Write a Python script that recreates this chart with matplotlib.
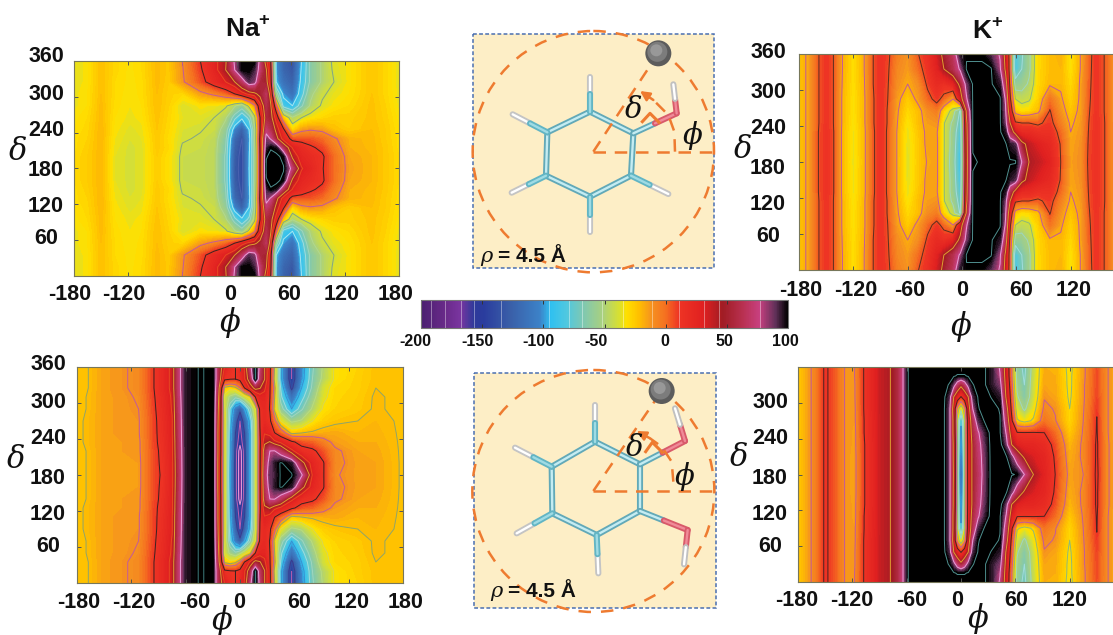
import matplotlib
matplotlib.use('Agg')
import matplotlib.pyplot as plt
import numpy as np
from matplotlib.colors import LinearSegmentedColormap, Normalize
from matplotlib.patches import Circle, Rectangle

plt.rcParams['font.family'] = ['Liberation Sans', 'DejaVu Sans']
plt.rcParams['mathtext.fontset'] = 'custom'
plt.rcParams['mathtext.bf'] = 'Liberation Sans:bold'

# ---- colour scale
cb_values = [-200, -180, -168, -157, -149, -127, -103, -94, -81, -67, -52, -38, -32, -22, -11, 0, 11, 31, 47, 63, 77, 90, 100]
cb_colors = ['#4a2070', '#6a2a8a', '#7a35a0', '#2f3a9a', '#2a3c9e', '#3a5fa8', '#3c82c8', '#2fc0f0', '#50c8e0', '#80c8b0',
             '#a8d080', '#d8e030', '#ffe000', '#ffc000', '#f59020', '#f57020', '#ee3424', '#e02020', '#a01c24', '#b83050',
             '#c84080', '#603058', '#000000']
cb_lines = [-192, -180, -167, -157, -135, -95, -79, -68, -52, -35, -11, 11, 31, 44, 77]
cb_ticks = [-200, -150, -100, -50, 0, 50, 100]
cb_label_x = [415, 478, 538, 596, 665, 724, 785]

# ---- Na+ top panel
na_top_phi = [-180, -165, -150, -135, -118, -105, -88, -75, -60, -40, -25, -12, -2, 6, 14, 20, 26, 33, 38, 44, 52, 62, 72, 82, 95, 108, 125, 150, 165, 180]
na_top_delta = [0, 15, 35, 55, 75, 95, 115, 130, 145, 160, 180, 200, 215, 230, 245, 265, 285, 305, 325, 345, 360]
a00 = [-36, -33, -22, -29, -33, -30, -21, -25, -11, 11, 26, 42, 80, 100, 100, 100, 72, 35, 10, -100, -125, -135, -95, -65, -50, -37, -33, -24, -29, -36]
a15 = [-36, -33, -22, -29, -33, -30, -21, -25, -12, 9, 25, 44, 77, 100, 100, 92, 70, 45, 15, -100, -122, -132, -93, -65, -50, -38, -33, -24, -29, -36]
a35 = [-36, -33, -22, -30, -33, -31, -21, -26, -13, 5, 20, 31, 44, 65, 90, 85, 55, 50, 20, -95, -115, -125, -90, -65, -50, -40, -33, -24, -29, -36]
a55 = [-35, -32, -22, -30, -34, -31, -22, -27, -30, -15, -8, 0, 11, 25, 35, 40, 50, 65, 35, -60, -100, -115, -85, -55, -42, -36, -32, -24, -29, -35]
a75 = [-35, -32, -21, -31, -34, -32, -22, -28, -38, -33, -35, -38, -50, -60, -35, -15, 25, 60, 45, -5, -85, -95, -70, -50, -38, -33, -30, -23, -28, -35]
a95 = [-33, -30, -21, -32, -35, -33, -23, -29, -36, -37, -40, -50, -75, -92, -75, -45, 10, 55, 50, 25, -25, -50, -40, -34, -30, -27, -27, -23, -27, -33]
a115 = [-32, -29, -20, -33, -37, -35, -24, -30, -38, -39.5, -42, -60, -105, -125, -95, -55, 10, 70, 60, 40, 15, -30, -15, -12, -14, -22, -26, -22, -26, -32]
a130 = [-31, -28, -20, -34, -38, -36, -25, -31, -39, -41, -45, -65, -120, -135, -100, -55, 15, 85, 75, 50, 25, 5, 5, 5, 0, -9, -19, -21, -26, -31]
a145 = [-31, -27, -20, -35, -39, -37, -25, -30, -41, -42, -46, -68, -125, -138, -98, -58, 12, 92, 100, 96, 60, 30, 20, 13, 8, -5, -18, -21, -25, -31]
a160 = [-30, -26, -20, -36, -39, -37, -26, -32, -42, -43, -46, -70, -128, -140, -96, -60, 10, 100, 104, 104, 98, 40, 25, 20, 13, 0, -16, -20, -25, -30]
a180 = [-30, -26, -20, -36, -39, -37, -26, -32, -42, -43, -46, -70, -130, -140, -95, -60, 10, 104, 105, 105, 102, 70, 32, 25, 12, 0, -15, -20, -25, -30]
na_top = [a00, a15, a35, a55, a75, a95, a115, a130, a145, a160, a180, a160, a145, a130, a115, a95, a75, a55, a35, a15, a00]
na_top_levels = [-135, -95, -79, -68, -52, -40, -11, 11, 31, 44, 77, 101]
na_top_colors = ['#4a62b0', '#a8e4f0', '#a0dcdc', '#9ed6c0', '#b0d890', '#7fa58a', '#c45a9a', '#3a2420', '#e84a20', '#e0a030', '#e8a0d8', '#4f8f8f']

# ---- Na+ bottom panel
na_bot_phi = [-180, -170, -150, -130, -112, -95, -85, -75, -68, -60, -45, -30, -24, -17, -11, -5, 0, 5, 11, 17, 22, 27, 33, 38, 45, 57, 68, 80, 92, 105, 130, 150, 180]
na_bot_delta = [0, 20, 35, 50, 70, 90, 110, 125, 140, 160, 180, 200, 220, 235, 250, 270, 290, 310, 325, 340, 360]
b00 = [-24, -23, -15, -12, -9, 11, 22, 35, 70, 95, 101.5, 100, 60, 30, 18, 11, 20, 32, 70, 102, 70, 45, 15, -20, -90, -150, -105, -70, -50, -33, -28, -23, -24]
b20 = [-24, -23, -15, -12, -9, 11, 22, 35, 70, 95, 101.5, 100, 60, 15, 12, 11, 16, 30, 55, 102, 65, 45, 15, -25, -90, -150, -103, -68, -48, -33, -27, -23, -24]
b35 = [-24, -23, -15, -12, -9, 11, 22, 35, 70, 95, 101.5, 100, 55, -25, -30, -25, -12, 11, 33, 50, 45, 35, 12, -15, -80, -140, -95, -65, -40, -30, -27, -22, -24]
b50 = [-24, -22, -15, -13, -10, 10, 20, 33, 68, 95, 101.5, 100, 50, -40, -55, -65, -55, -42, -28, 11, 25, 25, 11, -20, -75, -115, -85, -58, -38, -29, -26, -21, -24]
b70 = [-24, -22, -15, -13, -11, 9, 19, 32, 66, 95, 101.5, 100, 45, -35, -80, -110, -130, -100, -70, -35, 15, 22, 10, -25, -60, -95, -70, -50, -33, -28, -25, -21, -24]
b90 = [-24, -21, -15, -13, -12, 8, 18, 30, 65, 95, 101.5, 100, 42, -33, -85, -125, -150, -125, -90, -45, 12, 22, 14, -5, -35, -55, -50, -35, -27, -24, -22, -20, -23]
b110 = [-24, -21, -15, -13, -12, 8, 17, 30, 64, 95, 101.5, 100, 40, -33, -90, -135, -155, -135, -95, -45, 10, 30, 25, 12, 0, -25, -22, -20, -18, -17, -20, -19, -23]
b125 = [-24, -21, -15, -14, -13, 8, 16, 29, 63, 95, 101.5, 100, 40, -33, -92, -138, -160, -138, -95, -45, 8, 40, 45, 35, 28, 14, 5, 2, -6, -14, -18, -18, -23]
b140 = [-24, -22, -15, -14, -13, 7, 15, 29, 62, 95, 101.5, 100, 40, -33, -92, -140, -178, -140, -95, -45, 8, 55, 77, 78, 65, 35, 18, 14, 5, -9, -16, -17, -23]
b160 = [-24, -22, -15, -14, -14, 7, 14, 28, 61, 95, 101.5, 100, 38, -33, -94, -142, -180, -142, -95, -45, 8, 60, 85, 95, 102, 95, 50, 25, 12, -8, -15, -16, -23]
b180 = [-24, -22, -15, -14, -14, 7, 13, 28, 60, 95, 101.5, 100, 38, -33, -95, -142, -180, -142, -95, -45, 8, 65, 88, 92, 102, 102, 80, 30, 12, -10, -15, -16, -23]
na_bot = [b00, b20, b35, b50, b70, b90, b110, b125, b140, b160, b180, b160, b140, b125, b110, b90, b70, b50, b35, b20, b00]
na_bot_levels = [-167, -150, -135, -95, -79, -68, -52, -35, -22, -11, 11, 31, 44, 77, 101]
na_bot_colors = ['#e8a0d8', '#c060b0', '#3a3a90', '#3a8fd0', '#a0dcdc', '#9ed6c0', '#b8dc80', '#d8d850', '#8fa56a', '#c45a9a', '#3a2420', '#e84a20', '#e0a030', '#e8a0d8', '#3f7f7f']

# ---- K+ top panel
k_top_phi = [-180, -170, -158, -150, -142, -132, -120, -108, -98, -90, -82, -72, -60, -48, -38, -28, -20, -10, -2, 5, 12, 22, 32, 42, 48, 53, 59, 66, 74, 84, 97, 109, 120, 132, 140, 148, 157, 170, 180]
k_top_delta = [0, 25, 50, 75, 95, 115, 130, 150, 180, 210, 230, 245, 265, 285, 310, 335, 360]
c00 = [-24, -16, 5, 12, 5, -18, -32, -18, 5, 14, 8, -5, -12, 5, 15, 32, 50, 65, 95, 100, 100, 100, 90, 75, 35, -5, -85, -70, -55, -30, -22, -18, -34, -16, 0, 12, 5, -15, -24]
c25 = [-24, -16, 5, 12, 5, -18, -32, -18, 5, 14, 7, -8, -14, 0, 12, 28, 44, 60, 80, 102, 102, 102, 102, 80, 40, -5, -82, -68, -55, -30, -22, -20, -33, -16, 1, 12, 5, -15, -24]
c50 = [-24, -16, 5, 12, 5, -19, -32, -19, 5, 14, 6, -10, -18, -10, 8, 20, 15, 25, 50, 85, 102, 102, 102, 95, 60, 0, -60, -58, -50, -30, -20, -20, -30, -15, 2, 12, 5, -15, -24]
c75 = [-24, -16, 5, 12, 5, -20, -33, -20, 4, 14, 5, -14, -26, -14, 0, 10, 0, -18, 30, 75, 102, 102, 102, 102, 75, 10, -40, -45, -42, -28, -2, -16, -27, -15, 3, 12, 5, -15, -24]
c95 = [-24, -16, 5, 12, 5, -20, -33, -20, 4, 14, 4, -16, -30, -22, -10, -5, -30, -45, -70, 50, 102, 102, 102, 102, 80, 25, -25, -32, -30, -22, 6, -12, -24, -14, 4, 12, 5, -15, -24]
c115 = [-24, -16, 5, 12, 5, -20, -34, -20, 4, 14, 4, -17, -34, -22, -14, -12, -39, -55, -75, 40, 102, 102, 102, 102, 85, 45, 8, 5, 5, 2, 10, -6, -20, -13, 5, 13, 6, -15, -24]
c130 = [-24, -16, 6, 13, 6, -21, -35, -21, 3, 14, 3, -18, -36, -24, -15, -16, -39, -58, -80, 38, 102, 102, 102, 102, 95, 60, 35, 20, 20, 15, 15, 0, -18, -12, 6, 13, 6, -15, -24]
c150 = [-24, -16, 6, 13, 6, -21, -35, -21, 3, 14, 3, -18, -37, -25, -15, -15, -39, -58, -85, 36, 102, 102, 102, 102, 102, 95, 90, 50, 38, 30, 22, 4, -16, -11, 7, 13, 6, -15, -24]
c180 = [-24, -16, 6, 13, 6, -21, -36, -21, 3, 14, 3, -18, -38, -25, -17, -15, -39, -60, -88, 35, 100, 102, 102, 102, 102, 102, 102, 77, 44, 38, 28, 5, -15, -10, 8, 13, 6, -15, -24]
k_top = [c00, c25, c50, c75, c95, c115, c130, c150, c180, c150, c130, c115, c95, c75, c50, c25, c00]
k_top_levels = [-68, -52, -40, -18, 5, 44, 77, 101]
k_top_colors = ['#a0dcdc', '#9ed6c0', '#8fb87a', '#c45a9a', '#5a3020', '#e0a030', '#e8a0d8', '#4f8f8f']

# ---- K+ bottom panel
k_bot_phi = [-180, -170, -160, -150, -138, -128, -118, -107, -97, -88, -78, -70, -64, -58, -45, -20, -13, -8, -4, 0, 4, 8, 13, 19, 26, 34, 43, 50, 56, 62, 70, 80, 92, 104, 120, 135, 150, 160, 180]
k_bot_delta = [0, 15, 30, 50, 70, 90, 110, 130, 150, 180, 210, 230, 250, 270, 290, 310, 330, 345, 360]
d00 = [-25, -16, -5, 14, 2, -12, -12, 12, 26, 38, 44, 55, 77, 102, 106, 106, 106, 106, 106, 106, 106, 106, 106, 106, 102, 95, 75, 30, -10, -60, -72, -45, -18, -18, -34, -14, 6, -9, -25]
d15 = [-25, -16, -5, 14, 2, -12, -12, 12, 26, 38, 44, 55, 77, 102, 106, 106, 106, 102, 100, 100, 100, 102, 106, 106, 102, 95, 78, 32, -10, -58, -70, -44, -17, -18, -33, -14, 7, -9, -25]
d30 = [-25, -16, -5, 14, 2, -12, -13, 12, 26, 38, 44, 55, 77, 102, 106, 106, 100, 85, 65, 50, 65, 85, 100, 106, 102, 95, 85, 35, -5, -55, -68, -43, -16, -17, -33, -13, 7, -9, -25]
d50 = [-25, -16, -5, 14, 2, -12, -13, 12, 26, 38, 44, 55, 77, 102, 106, 106, 90, 44, 25, 10, 25, 44, 90, 102, 106, 100, 95, 40, 0, -50, -65, -42, -12, -16, -32, -13, 8, -9, -25]
d70 = [-25, -16, -5, 14, 2, -12, -14, 12, 26, 38, 44, 55, 77, 102, 106, 106, 85, 30, -20, -45, -20, 30, 77, 100, 106, 106, 100, 55, 5, -40, -55, -36, -8, -12, -30, -12, 10, -9, -25]
d90 = [-25, -16, -5, 14, 2, -12, -14, 11, 25, 38, 44, 55, 77, 102, 106, 106, 85, 35, -35, -92, -35, 25, 60, 90, 102, 106, 102, 65, 15, -28, -35, -28, -2, -10, -29, -11, 11.5, -9, -25]
d110 = [-25, -16, -5, 14, 2, -12, -15, 11, 25, 38, 44, 55, 77, 102, 106, 106, 85, 35, -30, -110, -30, 22, 55, 75, 92, 106, 102, 75, 30, 12, 11.5, 12, 11, 0, -25, -10, 12, -9, -25]
d130 = [-25, -16, -5, 14, 2, -12, -15, 10, 24, 38, 44, 55, 77, 102, 106, 106, 85, 38, -25, -120, -30, 20, 50, 70, 88, 106, 106, 85, 44, 30, 25, 25, 20, 6, -20, -9, 13, -8, -25]
d150 = [-25, -16, -5, 14, 2, -12, -16, 10, 24, 38, 44, 55, 77, 102, 106, 106, 85, 38, -25, -130, -30, 20, 50, 68, 86, 106, 106, 102, 85, 60, 40, 32, 25, 9, -18, -9, 13, -8, -25]
d180 = [-25, -16, -5, 14, 2, -12, -16, 10, 24, 38, 44, 55, 77, 102, 106, 106, 85, 40, -25, -140, -30, 20, 50, 65, 85, 106, 106, 106, 102, 100, 77, 44, 28, 11, -15, -11, 14, -8, -25]
k_bot = [d00, d15, d30, d50, d70, d90, d110, d130, d150, d180, d150, d130, d110, d90, d70, d50, d30, d15, d00]
k_bot_levels = [-100, -68, -52, -30, -11, 11, 44, 77, 101]
k_bot_colors = ['#3a8fd0', '#a0dcdc', '#9ed6c0', '#8fb87a', '#c45a9a', '#4a2420', '#e0a030', '#e8a0d8', '#4f8f8f']

x_tick_values = [-180, -120, -60, 0, 60, 120, 180]
y_tick_values = [60, 120, 180, 240, 300, 360]

cmap = LinearSegmentedColormap.from_list('pes', [((v + 200) / 300, c) for v, c in zip(cb_values, cb_colors)], N=512)
cmap.set_over('#000000')
norm = Normalize(-200, 100)
fill_levels = np.linspace(-200, 100, 151)

fig = plt.figure(figsize=(11.13, 6.35), dpi=100)
W, H = 1113, 635


def px_axes(x0, y0, x1, y1):
    return fig.add_axes([x0 / W, 1 - y1 / H, (x1 - x0) / W, (y1 - y0) / H])


def panel(box, phi, delta, grid, levels, colors):
    ax = px_axes(*box)
    ax.contourf(phi, delta, np.array(grid, dtype=float), levels=fill_levels, cmap=cmap, norm=norm, extend='max', antialiased=False)
    ax.contour(phi, delta, np.array(grid, dtype=float), levels=levels, colors=colors, linewidths=0.7)
    ax.set_xlim(-180, 180)
    ax.set_ylim(0, 360)
    ax.set_xticks(x_tick_values)
    ax.set_yticks(y_tick_values)
    ax.set_xticklabels([])
    ax.set_yticklabels([])
    ax.tick_params(direction='in', length=3, width=0.7, color='#555555', top=True, right=True)
    for s in ax.spines.values():
        s.set_color('#77775a')
        s.set_linewidth(0.8)
    return ax


panel((74, 61, 399, 276), na_top_phi, na_top_delta, na_top, na_top_levels, na_top_colors)
panel((77, 367, 403, 583), na_bot_phi, na_bot_delta, na_bot, na_bot_levels, na_bot_colors)
panel((799, 54, 1125, 270), k_top_phi, k_top_delta, k_top, k_top_levels, k_top_colors)
panel((798, 367, 1124, 582), k_bot_phi, k_bot_delta, k_bot, k_bot_levels, k_bot_colors)

# colour bar
cax = px_axes(421, 300, 788, 328)
sm = plt.cm.ScalarMappable(norm=norm, cmap=cmap)
cb = fig.colorbar(sm, cax=cax, orientation='horizontal')
cb.set_ticks(cb_ticks)
cb.ax.set_xticklabels([])
cb.ax.tick_params(direction='in', length=3, width=0.7, color='#333333', top=True)
for v in cb_lines:
    cb.ax.axvline(v, color='white', lw=0.7, alpha=0.4)
cb.outline.set_edgecolor('#777777')

# everything else sits on a pixel overlay
ov = fig.add_axes([0, 0, 1, 1], zorder=10)
ov.set_xlim(0, W)
ov.set_ylim(H, 0)
ov.axis('off')


def label(x, y, s, size=15.5):
    ov.text(x, y, s, ha='center', va='center', fontsize=size, fontweight='bold', color='#111111')


def symbol(x, y, s, size=22):
    ov.text(x, y, s, ha='center', va='center', fontsize=size, style='italic',
            family=['DejaVu Serif', 'DejaVu Sans'], color='#111111')


x_lab = [str(v) for v in x_tick_values]
y_lab = [str(v) for v in y_tick_values[::-1]]
for x, s in zip([70, 124, 185, 230, 289, 342, 396], x_lab):
    label(x, 295, s)
for x, s in zip([79, 134, 195, 239, 299, 352, 406], x_lab):
    label(x, 602, s)
for x, s in zip([801, 856, 910, 962, 1021, 1074], x_lab):
    label(x, 290, s)
for x, s in zip([797, 852, 912, 957, 1016, 1070], x_lab):
    label(x, 600, s)
for y, s in zip([56, 94, 131, 171, 206, 239], y_lab):
    label(46, y, s)
for y, s in zip([364, 402, 439, 478, 515, 547], y_lab):
    label(48, y, s)
for y, s in zip([53, 92, 129, 168, 204, 237], y_lab):
    label(768, y, s)
for y, s in zip([402, 439, 478, 514, 547], y_lab[1:]):
    label(770, y, s)
for x, v in zip(cb_label_x, cb_ticks):
    label(x, 342, str(v), size=11.5)

label(248, 28, r'Na$^{\mathbf{+}}$', size=19)
label(988, 30, r'K$^{\mathbf{+}}$', size=19)
for x, y in [(230, 322), (222, 620), (961, 326), (978, 618)]:
    symbol(x, y, '\u03d5')
for x, y in [(18, 152), (16, 460), (743, 150), (739, 457)]:
    symbol(x, y, '\u03b4')

# molecule insets, coordinates in crop units (1/3 px)
ring_1 = [(375, 260), (505, 325), (498, 452), (375, 515), (243, 452), (247, 322)]
hyd_1 = [(0, (375, 155)), (5, (143, 268)), (4, (140, 503)), (3, (375, 622)), (2, (610, 507))]
hydroxyl_1 = [[(505, 325), (635, 265), (625, 178)]]
ring_2 = [(390, 230), (525, 298), (525, 438), (395, 510), (262, 445), (260, 305)]
hyd_2 = [(0, (390, 120)), (5, (150, 248)), (4, (155, 505)), (3, (400, 625))]
hydroxyl_2 = [[(525, 298), (660, 228), (630, 130)], [(525, 438), (668, 495), (657, 598)]]

ORANGE = '#ee7b30'


def inset(off, box, center, radius, ring, hyd, hydroxyl, ball, arc, tip, d_arc, d_pos, p_pos, rho_pos):
    ox, oy = off
    T = lambda p: (ox + p[0] / 3, oy + p[1] / 3)
    x0, y0, x1, y1 = box
    ov.add_patch(Rectangle((x0, y0), x1 - x0, y1 - y0, fc='#fdeec6', ec='#4a6fb0', lw=1.1, ls=(0, (2.5, 1.5))))

    def stick(p, q, col, edge):
        (a, b), (c, d) = T(p), T(q)
        ov.plot([a, c], [b, d], color=edge, lw=4.4, solid_capstyle='round')
        ov.plot([a, c], [b, d], color=col, lw=1.7, solid_capstyle='round')

    mid = lambda p, q: ((p[0] + q[0]) / 2, (p[1] + q[1]) / 2)
    for i in range(6):
        stick(ring[i], ring[(i + 1) % 6], '#c4ecf2', '#62a9b8')
    for i, h in hyd:
        stick(h, mid(ring[i], h), '#ffffff', '#c4c4c4')
        stick(ring[i], mid(ring[i], h), '#9fdbe4', '#62b5c4')
    for c, o, h in hydroxyl:
        stick(c, mid(c, o), '#c4ecf2', '#62a9b8')
        stick(mid(c, o), o, '#f08a98', '#d85a6a')
        stick(o, mid(o, h), '#f08a98', '#d85a6a')
        stick(mid(o, h), h, '#ffffff', '#c0c0c0')

    dash = (0, (5, 3.5))
    cx, cy = T(center)
    ov.add_patch(Circle((cx, cy), radius / 3, fc='none', ec=ORANGE, lw=1.8, ls=(0, (5, 4))))
    a, b = T(center)
    c, d = T((748, center[1]))
    ov.plot([a, c], [b, d], color=ORANGE, lw=1.8, ls=dash)
    c, d = T(ball)
    ov.plot([a, c], [b, d], color=ORANGE, lw=1.8, ls=dash)
    pts = [T(p) for p in arc]
    ov.plot([p[0] for p in pts], [p[1] for p in pts], color=ORANGE, lw=1.8, ls=dash)
    ov.annotate('', xy=T(tip), xytext=pts[-1], arrowprops=dict(arrowstyle='-|>', color=ORANGE, lw=1.8, mutation_scale=14, shrinkA=0, shrinkB=0))
    pts = [T(p) for p in d_arc]
    ov.plot([p[0] for p in pts], [p[1] for p in pts], color=ORANGE, lw=2.2)
    bx, by = T(ball)
    ov.add_patch(Circle((bx, by), 13, fc='#5c5c5c', ec='none', zorder=5))
    ov.add_patch(Circle((bx - 1, by - 1.5), 10, fc='#7c7c7c', ec='none', zorder=5))
    ov.add_patch(Circle((bx - 2, by - 3), 6, fc='#989898', ec='none', zorder=5))
    symbol(*T(d_pos), '\u03b4', size=21)
    symbol(*T(p_pos), '\u03d5', size=21)
    rx, ry = T(rho_pos)
    ov.text(rx, ry, '\u03c1', ha='center', va='center', fontsize=15, style='italic', family=['DejaVu Serif'], color='#111111')
    ov.text(rx + 11, ry, '= 4.5 \u00c5', ha='left', va='center', fontsize=15, fontweight='bold', color='#111111')


inset((465, 25), (473, 34, 714, 268), (385, 380), 362, ring_1, hyd_1, hydroxyl_1, (580, 85),
      [(630, 380), (628, 320), (610, 270), (565, 225)], (525, 198), [(532, 290), (555, 265), (582, 292)],
      (507, 255), (683, 332), (65, 695))
inset((465, 365), (474, 373, 716, 608), (385, 378), 363, ring_2, hyd_2, hydroxyl_2, (590, 78),
      [(625, 350), (620, 290), (590, 245), (555, 220)], (515, 198), [(542, 260), (562, 232), (592, 262)],
      (510, 250), (660, 335), (95, 680))

fig.savefig('out.png', dpi=100)
